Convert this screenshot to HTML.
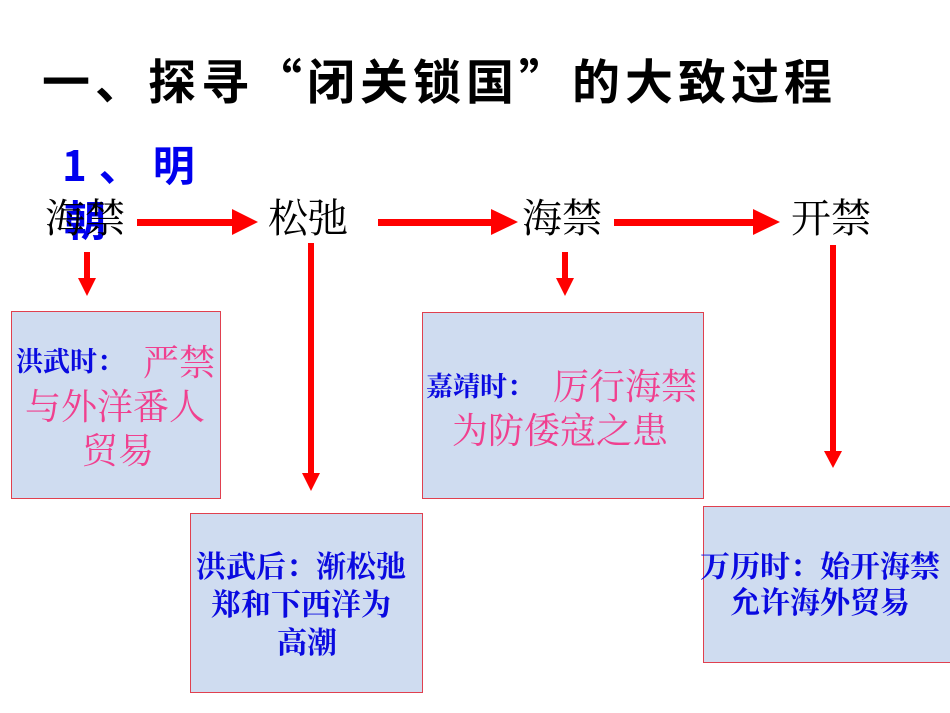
<!DOCTYPE html>
<html><head><meta charset="utf-8"><style>
body{margin:0;width:950px;height:713px;background:#fff;position:relative;overflow:hidden;font-family:"Liberation Serif","Noto Serif CJK SC",serif;}
.t{position:absolute;white-space:nowrap;line-height:1;}
.box{position:absolute;background:#cfdcf0;border:1.5px solid #e0404f;box-sizing:border-box;}
.b{color:#0a0ae0;}
.p{color:#f0408f;}
</style></head><body>
<div class="t" style="left:42px;top:54px;font-size:48px;font-weight:bold;letter-spacing:5px;font-family:'Noto Sans CJK SC',sans-serif;color:#000">一、探寻“闭关锁国”的大致过程</div>
<div class="t" style="left:62px;top:143px;font-size:42px;font-weight:bold;letter-spacing:12px;color:#0000ee;font-family:'Noto Sans CJK SC',sans-serif">1、明</div>
<div class="t" style="left:64px;top:198px;font-size:42px;font-weight:bold;color:#0000ee;font-family:'Noto Sans CJK SC',sans-serif">朝</div>
<div class="t" style="left:45px;top:199px;font-size:40px;color:#000">海禁</div>
<div class="t" style="left:268px;top:199px;font-size:40px;color:#000">松弛</div>
<div class="t" style="left:522px;top:199px;font-size:40px;color:#000">海禁</div>
<div class="t" style="left:791px;top:199px;font-size:40px;color:#000">开禁</div>

<svg width="950" height="713" style="position:absolute;left:0;top:0">
<g fill="#f00">
<rect x="137" y="219" width="97" height="7"/><polygon points="232,209 258,222 232,235"/>
<rect x="378" y="219" width="114" height="7"/><polygon points="491,209 518,222 491,235"/>
<rect x="614" y="219" width="140" height="7"/><polygon points="753,209 780,222 753,235"/>
<rect x="84" y="252" width="6" height="28"/><polygon points="78,278 96,278 87,296"/>
<rect x="308" y="243" width="6" height="232"/><polygon points="302,473 320,473 311,491"/>
<rect x="562" y="252" width="6" height="28"/><polygon points="556,278 574,278 565,296"/>
<rect x="830" y="245" width="6" height="208"/><polygon points="824,451 842,451 833,468"/>
</g></svg>

<div class="box" style="left:11px;top:311px;width:210px;height:188px"></div>
<div class="t b" style="left:16px;top:349px;font-size:27px;font-weight:bold">洪武时：</div>
<div class="t p" style="left:143px;top:345px;font-size:36px">严禁</div>
<div class="t p" style="left:25px;top:389px;font-size:36px">与外洋番人</div>
<div class="t p" style="left:82px;top:433px;font-size:36px">贸易</div>

<div class="box" style="left:190px;top:513px;width:233px;height:180px"></div>
<div class="t b" style="left:196px;top:553px;font-size:30px;font-weight:bold">洪武后：渐松弛</div>
<div class="t b" style="left:211px;top:591px;font-size:30px;font-weight:bold">郑和下西洋为</div>
<div class="t b" style="left:277px;top:629px;font-size:30px;font-weight:bold">高潮</div>

<div class="box" style="left:422px;top:312px;width:282px;height:187px"></div>
<div class="t b" style="left:426px;top:374px;font-size:27px;font-weight:bold">嘉靖时：</div>
<div class="t p" style="left:553px;top:369px;font-size:36px">厉行海禁</div>
<div class="t p" style="left:452px;top:413px;font-size:36px">为防倭寇之患</div>

<div class="box" style="left:703px;top:506px;width:250px;height:157px"></div>
<div class="t b" style="left:700px;top:553px;font-size:30px;font-weight:bold">万历时：始开海禁</div>
<div class="t b" style="left:730px;top:589px;font-size:30px;font-weight:bold">允许海外贸易</div>
</body></html>
